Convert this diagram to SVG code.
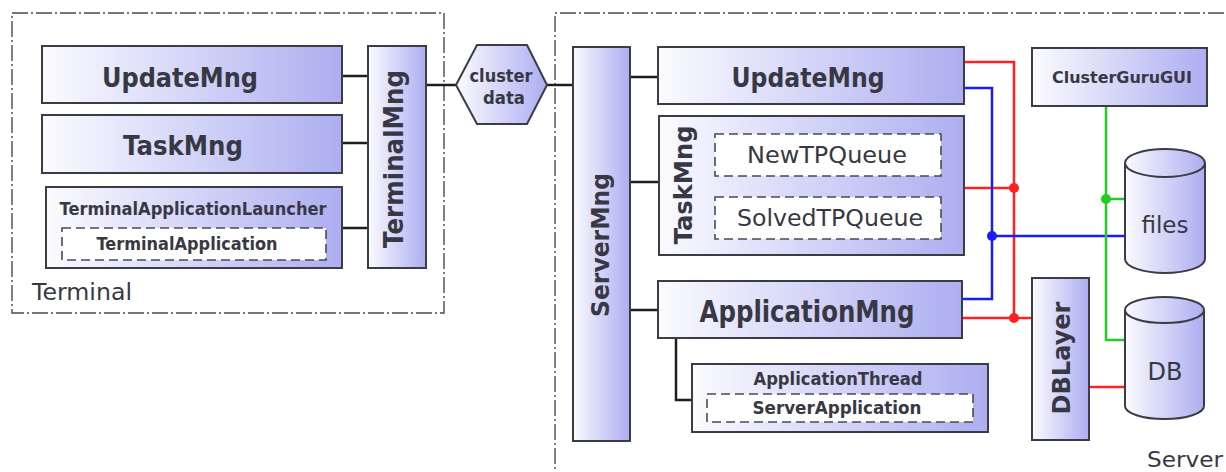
<svg xmlns="http://www.w3.org/2000/svg" width="1226" height="472" viewBox="0 0 1226 472">
<defs>
<linearGradient id="g" x1="0" y1="0" x2="1" y2="0">
<stop offset="0" stop-color="#fbfbff"/>
<stop offset="1" stop-color="#acaef0"/>
</linearGradient>
<style>
.box{fill:url(#g);stroke:#3c3c46;stroke-width:2}
.dash{fill:#ffffff;stroke:#4a4a52;stroke-width:1.6;stroke-dasharray:9 5}
.bound{fill:none;stroke:#4a4a4a;stroke-width:1.4;stroke-dasharray:16 3 2 3}
.b{font-family:"DejaVu Sans",Verdana,sans-serif;font-weight:bold;fill:#383844;text-anchor:middle}
.r{font-family:"DejaVu Sans",Verdana,sans-serif;fill:#383844;text-anchor:middle}
.k{fill:none;stroke:#1e1e1e;stroke-width:2.5}
.red{fill:none;stroke:#ff2020;stroke-width:2.5}
.blue{fill:none;stroke:#1a1aff;stroke-width:2.5}
.green{fill:none;stroke:#22cc22;stroke-width:2.5}
</style>
</defs>
<rect width="1226" height="472" fill="#ffffff"/>

<g id="terminal-boundary">
<rect class="bound" x="12" y="13" width="432" height="300"/>
<text class="r" x="32" y="300" font-size="23" style="text-anchor:start" textLength="100" lengthAdjust="spacingAndGlyphs">Terminal</text>
</g>
<g id="server-boundary">
<path class="bound" d="M1224,13 H555 V472"/>
<text class="r" x="1147" y="467" font-size="22" style="text-anchor:start" textLength="76" lengthAdjust="spacingAndGlyphs">Server</text>
</g>

<g id="connectors">
<path class="k" d="M342,76 H368 M342,143 H368 M342,228 H368 M426,85 H456 M547,85 H573 M630,77 H658 M630,182 H659 M630,310 H658 M676,338 V400 H692"/>
<path class="red" d="M964,62 H1014 V318 M964,188 H1014 M962,318 H1032 M1089,387 H1125"/>
<path class="blue" d="M964,88 H992 V299 H962 M992,236 H1125"/>
<path class="green" d="M1106,106 V340 H1125 M1106,199 H1125"/>
<circle cx="1014" cy="188" r="5" fill="#ff2020"/>
<circle cx="1014" cy="318" r="5" fill="#ff2020"/>
<circle cx="992" cy="236" r="5" fill="#1a1aff"/>
<circle cx="1106" cy="199" r="5" fill="#22cc22"/>
</g>

<g id="t-updatemng">
<rect class="box" x="42" y="46" width="300" height="57"/>
<text class="b" x="180" y="87" font-size="27" textLength="156" lengthAdjust="spacingAndGlyphs">UpdateMng</text>
</g>
<g id="t-taskmng">
<rect class="box" x="42" y="115" width="300" height="58"/>
<text class="b" x="183" y="155" font-size="26" textLength="120" lengthAdjust="spacingAndGlyphs">TaskMng</text>
</g>
<g id="t-launcher">
<rect class="box" x="46" y="187" width="296" height="81"/>
<text class="b" x="193" y="215" font-size="17" textLength="267" lengthAdjust="spacingAndGlyphs">TerminalApplicationLauncher</text>
</g>
<g id="t-application">
<rect class="dash" x="62" y="228" width="264" height="32"/>
<text class="b" x="187" y="250" font-size="17" textLength="181" lengthAdjust="spacingAndGlyphs">TerminalApplication</text>
</g>
<g id="t-terminalmng">
<rect class="box" x="368" y="46" width="58" height="222"/>
<text class="b" x="403" y="159" font-size="26" textLength="178" lengthAdjust="spacingAndGlyphs" transform="rotate(-90 403 159)">TerminalMng</text>
</g>

<g id="clusterdata">
<polygon class="box" points="456,85 477,45 527,45 547,85 527,124 477,124"/>
<text class="b" x="501" y="82" font-size="17" textLength="63" lengthAdjust="spacingAndGlyphs">cluster</text>
<text class="b" x="504" y="104" font-size="17" textLength="42" lengthAdjust="spacingAndGlyphs">data</text>
</g>

<g id="s-servermng">
<rect class="box" x="573" y="47" width="57" height="394"/>
<text class="b" x="609" y="245" font-size="25" textLength="144" lengthAdjust="spacingAndGlyphs" transform="rotate(-90 609 245)">ServerMng</text>
</g>
<g id="s-updatemng">
<rect class="box" x="658" y="47" width="306" height="57"/>
<text class="b" x="808" y="87" font-size="26" textLength="153" lengthAdjust="spacingAndGlyphs">UpdateMng</text>
</g>
<g id="s-taskmng">
<rect class="box" x="659" y="116" width="305" height="139"/>
<text class="b" x="692" y="185" font-size="24" textLength="119" lengthAdjust="spacingAndGlyphs" transform="rotate(-90 692 185)">TaskMng</text>
</g>
<g id="s-newtpqueue">
<rect class="dash" x="715" y="134" width="226" height="42"/>
<text class="r" x="827" y="163" font-size="23" textLength="160" lengthAdjust="spacingAndGlyphs">NewTPQueue</text>
</g>
<g id="s-solvedtpqueue">
<rect class="dash" x="715" y="197" width="226" height="42"/>
<text class="r" x="830" y="226" font-size="23" textLength="186" lengthAdjust="spacingAndGlyphs">SolvedTPQueue</text>
</g>
<g id="s-applicationmng">
<rect class="box" x="658" y="281" width="304" height="57"/>
<text class="b" x="807" y="322" font-size="30" textLength="215" lengthAdjust="spacingAndGlyphs">ApplicationMng</text>
</g>
<g id="s-applicationthread">
<rect class="box" x="692" y="364" width="296" height="68"/>
<text class="b" x="838" y="385" font-size="17" textLength="169" lengthAdjust="spacingAndGlyphs">ApplicationThread</text>
</g>
<g id="s-serverapplication">
<rect class="dash" x="707" y="394" width="266" height="28"/>
<text class="b" x="837" y="414" font-size="17" textLength="169" lengthAdjust="spacingAndGlyphs">ServerApplication</text>
</g>
<g id="s-dblayer">
<rect class="box" x="1032" y="278" width="57" height="162"/>
<text class="b" x="1070" y="358" font-size="24" textLength="113" lengthAdjust="spacingAndGlyphs" transform="rotate(-90 1070 358)">DBLayer</text>
</g>
<g id="s-clusterguru">
<rect class="box" x="1032" y="48" width="175" height="58"/>
<text class="b" x="1122" y="83" font-size="16" textLength="140" lengthAdjust="spacingAndGlyphs">ClusterGuruGUI</text>
</g>
<g id="s-files">
<path class="box" d="M1125,163 A40,14 0 0 1 1205,163 L1205,259 A40,14 0 0 1 1125,259 Z"/>
<path fill="none" stroke="#3c3c46" stroke-width="2" d="M1125,163 A40,14 0 0 0 1205,163"/>
<text class="r" x="1165" y="233" font-size="23">files</text>
</g>
<g id="s-db">
<path class="box" d="M1125,310 A39.5,13 0 0 1 1204,310 L1204,406 A39.5,13 0 0 1 1125,406 Z"/>
<path fill="none" stroke="#3c3c46" stroke-width="2" d="M1125,310 A39.5,13 0 0 0 1204,310"/>
<text class="r" x="1165" y="380" font-size="24">DB</text>
</g>
</svg>
